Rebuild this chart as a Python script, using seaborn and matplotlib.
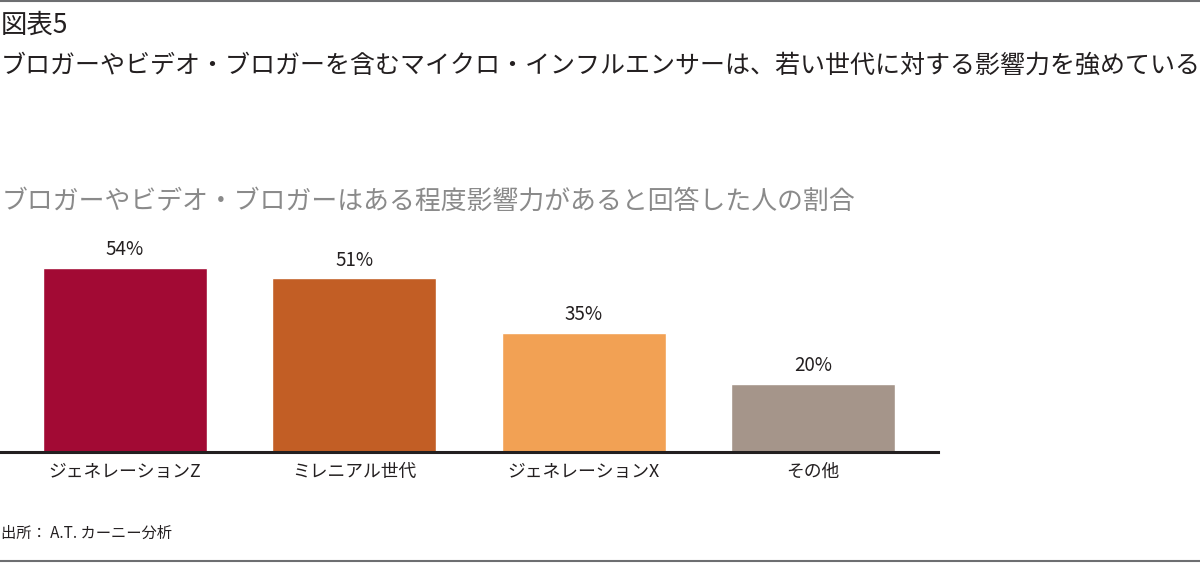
import matplotlib
matplotlib.use("Agg")
import matplotlib.pyplot as plt
import seaborn as sns
import pandas as pd
from matplotlib.lines import Line2D

# data
categories = ['ジェネレーションZ', 'ミレニアル世代', 'ジェネレーションX', 'その他']
values = [54, 51, 35, 20]
colors = ['#a20a34', '#c25e25', '#f2a154', '#a5958a']

sns.set_style('white')
plt.rcParams['font.family'] = ['Noto Sans CJK JP', 'DejaVu Sans']

df = pd.DataFrame({'category': categories, 'value': values})

fig = plt.figure(figsize=(12, 5.65), dpi=100)
ax = fig.add_axes([0, 0.2, 938 / 1200, 221.5 / 565])

sns.barplot(data=df, x='category', y='value', hue='category',
            palette=colors, width=0.716, saturation=1, legend=False, ax=ax)

ax.set_xlim(-0.545, 3.545)
ax.set_ylim(0, 65)
for s in ['top', 'right', 'left']:
    ax.spines[s].set_visible(False)
ax.spines['bottom'].set_linewidth(2.2)
ax.spines['bottom'].set_color('#231f20')
ax.set_yticks([])
ax.set_xlabel('')
ax.set_ylabel('')
ax.tick_params(axis='x', length=0, pad=8, labelsize=12.8, labelcolor='#231f20')

for i, v in enumerate(values):
    ax.text(i, v + 2.2, f'{v}%', ha='center', va='bottom', fontsize=13.5, color='#231f20')

# titles
fig.text(0.001, 1 - 25 / 565, '図表5', fontsize=19, color='#231f20', va='center', ha='left')
fig.text(0.001, 1 - 66 / 565,
         'ブロガーやビデオ・ブロガーを含むマイクロ・インフルエンサーは、若い世代に対する影響力を強めている',
         fontsize=18, color='#231f20', va='center', ha='left')
fig.text(0.001, 1 - 201 / 565,
         'ブロガーやビデオ・ブロガーはある程度影響力があると回答した人の割合',
         fontsize=18.6, color='#8a8a8a', va='center', ha='left')
fig.text(0.001, 1 - 533 / 565, '出所： A.T. カーニー分析', fontsize=11,
         color='#231f20', va='center', ha='left')

# frame lines
fig.add_artist(Line2D([0, 1], [1 - 1 / 565, 1 - 1 / 565], transform=fig.transFigure,
                      color='#6d6e71', linewidth=1.5))
fig.add_artist(Line2D([0, 1], [1 - 561 / 565, 1 - 561 / 565], transform=fig.transFigure,
                      color='#6d6e71', linewidth=1.5))

plt.savefig('out.png', dpi=100)
